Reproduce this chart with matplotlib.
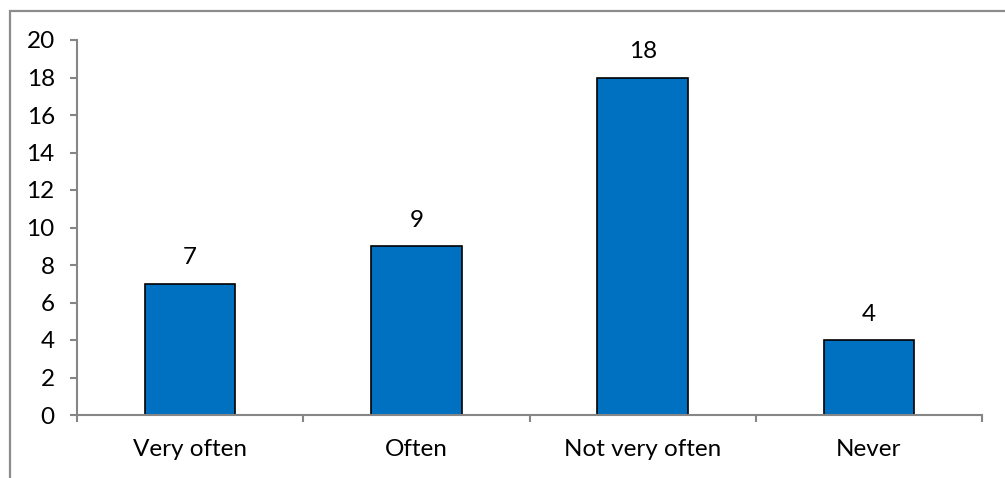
import matplotlib.pyplot as plt
from matplotlib.patches import Rectangle

categories = ["Very often", "Often", "Not very often", "Never"]
counts = [7, 9, 18, 4]
y_ticks = list(range(0, 21, 2))

plt.rcParams["font.family"] = ["Lato", "DejaVu Sans"]

fig = plt.figure(figsize=(10.05, 4.78), dpi=100)
ax = fig.add_axes([77 / 1005, 63 / 478, 905 / 1005, 375 / 478])

# frame around the chart area (runs off the right and bottom edge)
fig.patches.append(Rectangle((9.5 / 1005, -0.1), 1.2, (478 - 11) / 478 + 0.1,
                             transform=fig.transFigure, fill=False,
                             edgecolor="#8c8c8c", linewidth=1.6))

x = range(len(categories))
bars = ax.bar(x, counts, width=0.4, color="#0070C0", edgecolor="black", linewidth=1.2)

for xi, v in zip(x, counts):
    ax.annotate(str(v), (xi, v), xytext=(0, 11), textcoords="offset points",
                ha="center", va="bottom", fontsize=17.5)

ax.set_xlim(-0.5, len(categories) - 0.5)
ax.set_ylim(0, 20)
ax.set_yticks(y_ticks)
ax.set_xticks(x)
ax.set_xticklabels(categories)
ax.set_xticks([i - 0.5 for i in range(len(categories) + 1)], minor=True)

for s in ["top", "right"]:
    ax.spines[s].set_visible(False)
for s in ["left", "bottom"]:
    ax.spines[s].set_color("#868686")
    ax.spines[s].set_linewidth(1.5)

ax.tick_params(axis="y", length=5, width=1.5, color="#868686", labelsize=17.5, pad=11)
ax.tick_params(axis="x", which="major", length=0, labelsize=17.5, pad=17)
ax.tick_params(axis="x", which="minor", length=5, width=1.5, color="#868686")

fig.savefig("out.png", dpi=100)
